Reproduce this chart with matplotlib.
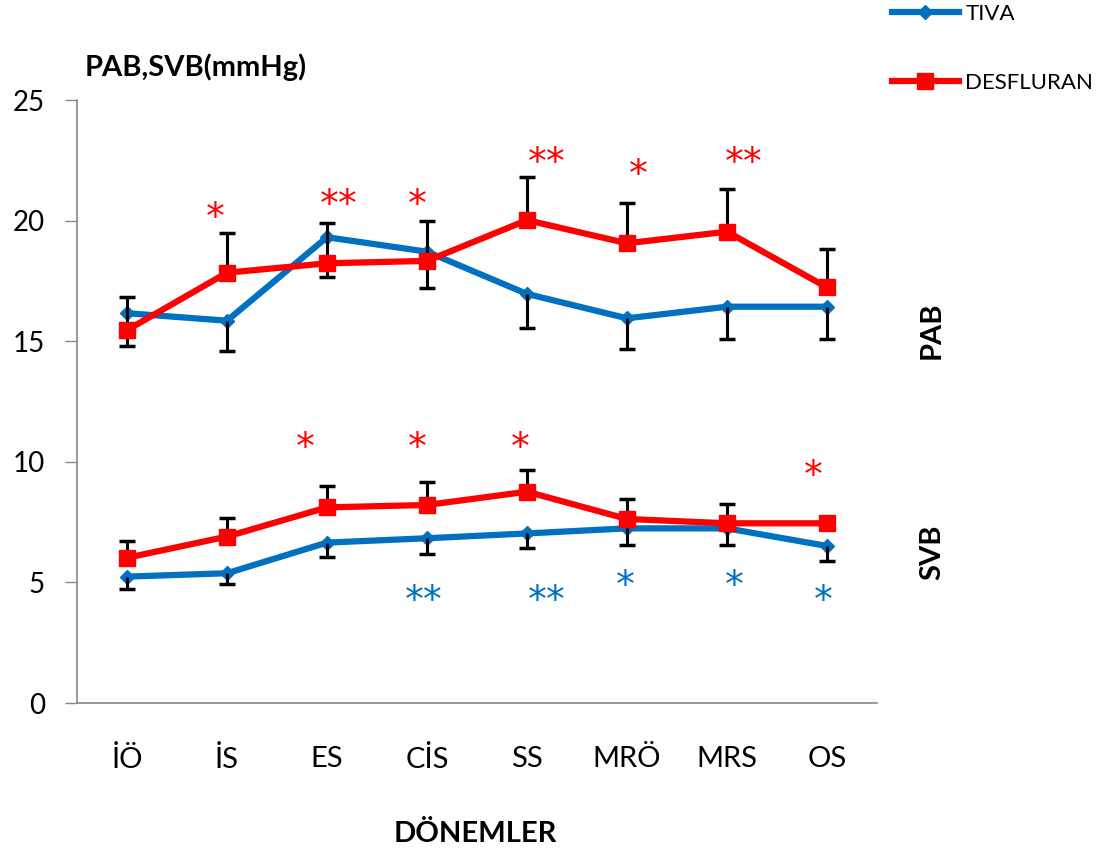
import matplotlib
matplotlib.use("Agg")
import matplotlib.pyplot as plt
import numpy as np

categories = ["İÖ", "İS", "ES", "CİS", "SS", "MRÖ", "MRS", "OS"]

pab_tiva = [16.16, 15.85, 19.31, 18.71, 16.96, 15.95, 16.43, 16.43]
pab_tiva_err = [1.36, 1.25, 1.64, 1.52, 1.40, 1.29, 1.33, 1.33]
pab_des = [15.46, 17.84, 18.23, 18.33, 20.02, 19.06, 19.54, 17.23]
pab_des_err = [1.37, 1.65, 1.68, 1.67, 1.80, 1.68, 1.77, 1.59]

svb_tiva = [5.24, 5.38, 6.65, 6.83, 7.03, 7.24, 7.24, 6.51]
svb_tiva_err = [0.53, 0.45, 0.58, 0.65, 0.62, 0.69, 0.69, 0.62]
svb_des = [6.02, 6.90, 8.11, 8.21, 8.76, 7.63, 7.45, 7.45]
svb_des_err = [0.71, 0.76, 0.89, 0.94, 0.90, 0.83, 0.80, 0.0]

# significance markers: (x position in category units, y value, text)
stars_red = [(0.88, 20.45, "*"), (2.12, 20.98, "**"), (2.90, 20.98, "*"),
             (4.20, 22.72, "**"), (5.11, 22.23, "*"), (6.17, 22.72, "**"),
             (1.78, 10.9, "*"), (2.90, 10.9, "*"), (3.93, 10.9, "*"),
             (6.86, 9.74, "*")]
stars_blue = [(2.97, 4.56, "**"), (4.20, 4.56, "**"), (4.98, 5.18, "*"),
              (6.07, 5.18, "*"), (6.96, 4.56, "*")]

BLUE = "#0070C0"
RED = "#FF0000"
FONT = "Lato"

fig = plt.figure(figsize=(11.11, 8.56), dpi=100)
ax = fig.add_axes([77/1111, 1-703/856, 800/1111, 603/856])
x = np.arange(len(categories))

lw = 4.5
l1, = ax.plot(x, pab_tiva, color=BLUE, lw=lw, marker="D", ms=7, zorder=3, label="TIVA")
l2, = ax.plot(x, pab_des, color=RED, lw=lw, marker="s", ms=11, zorder=5, label="DESFLURAN")
ax.plot(x, svb_tiva, color=BLUE, lw=lw, marker="D", ms=7, zorder=3)
ax.plot(x, svb_des, color=RED, lw=lw, marker="s", ms=11, zorder=5)


def one_sided(means, errs, direction):
    means = np.asarray(means, float)
    errs = np.asarray(errs, float)
    keep = errs > 0
    ends = means + direction * errs
    ax.vlines(x[keep], means[keep], ends[keep], color="black", lw=2.2, zorder=4)
    ax.plot(x[keep], ends[keep], ls="none", marker="_", ms=11, mew=2.5,
            color="black", zorder=4)


one_sided(pab_des, pab_des_err, +1)
one_sided(pab_tiva, pab_tiva_err, -1)
one_sided(svb_des, svb_des_err, +1)
one_sided(svb_tiva, svb_tiva_err, -1)

for data, col in ((stars_red, RED), (stars_blue, BLUE)):
    for sx, sy, s in data:
        ax.annotate(s, (sx, sy), xytext=(0, -6.5), textcoords="offset points",
                    color=col, fontsize=27, ha="center", va="center",
                    family="DejaVu Sans")

ax.set_xlim(-0.5, len(categories) - 0.5)
ax.set_ylim(0, 25)
ax.set_yticks([0, 5, 10, 15, 20, 25])
ax.set_xticks(x)
ax.set_xticklabels(categories, family=FONT, fontsize=21)
for lab in ax.get_yticklabels():
    lab.set_family(FONT)
    lab.set_fontsize(20)
ax.tick_params(axis="x", length=0, pad=31)
ax.tick_params(axis="y", length=9, width=1, color="#888888", pad=14, direction="out")
for side in ["top", "right"]:
    ax.spines[side].set_visible(False)
for side in ["left", "bottom"]:
    ax.spines[side].set_color("#888888")
    ax.spines[side].set_linewidth(1.2)

fig.text(85/1111, 1-67/856, "PAB,SVB(mmHg)", family=FONT, fontsize=21,
         fontweight="bold", ha="left", va="center")
fig.text(475/1111, 1-834/856, "DÖNEMLER", family=FONT, fontsize=21,
         fontweight="bold", ha="center", va="center")
fig.text(932/1111, 1-330/856, "PAB", family=FONT, fontsize=21,
         fontweight="bold", ha="center", va="center", rotation=90)
fig.text(932/1111, 1-552/856, "SVB", family=FONT, fontsize=21,
         fontweight="bold", ha="center", va="center", rotation=90)

leg = fig.legend(handles=[l1, l2], loc="upper left",
                 bbox_to_anchor=(892/1111, 1-4/856), frameon=False,
                 prop=dict(family=FONT, size=16), handlelength=3.0,
                 handletextpad=0.3, labelspacing=2.2, numpoints=1,
                 borderpad=0, borderaxespad=0)

fig.savefig("out.png", dpi=100)
